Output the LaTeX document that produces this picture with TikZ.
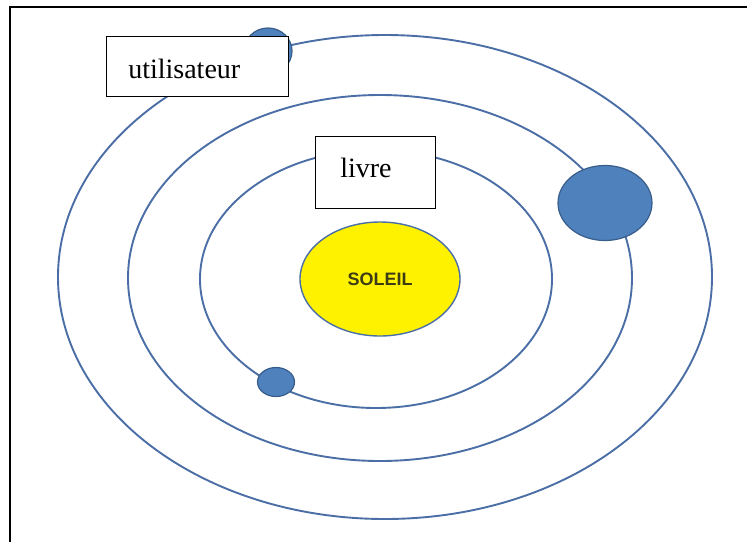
\documentclass[tikz,border=0pt]{standalone}
\usepackage{fontspec}
\setmainfont{Liberation Serif}
\newfontfamily\soleilfont{Liberation Sans}
\usetikzlibrary{shapes.geometric, positioning}

\definecolor{orbitblue}{RGB}{74,110,165}
\definecolor{planetfill}{RGB}{79,129,189}
\definecolor{planetline}{RGB}{56,93,138}
\definecolor{soleiltext}{RGB}{60,60,20}

\begin{document}
\begin{tikzpicture}[
    % Global options: pixel-like units, y going down
    x=1pt, y=-1pt,
    line width=1.9pt,
    orbit/.style={draw=orbitblue},
    planet/.style={ellipse, draw=planetline, fill=planetfill, line width=1.2pt, inner sep=0pt},
    labelbox/.style={draw=black, fill=white, line width=1.3pt, font=\fontsize{28}{30}\selectfont,
      inner sep=0pt, anchor=north west},
  ]
    \useasboundingbox (0,0) rectangle (747,542);

    % --- Frame (top and left edges only) ---
    \draw[black, line width=1.8pt] (747,7) -- (10,7) -- (10,542);

    % --- Orbits ---
    \draw[orbit] (385,277) ellipse (327pt and 242pt);
    \draw[orbit] (380,278) ellipse (252pt and 183pt);
    \draw[orbit] (376,279) ellipse (176pt and 129pt);

    % --- Sun ---
    \node[ellipse, draw=orbitblue, fill=yellow, line width=1.4pt, inner sep=0pt,
      minimum width=160pt, minimum height=114pt,
      font=\soleilfont\bfseries\fontsize{18}{20}\selectfont, text=soleiltext]
      (soleil) at (380,279) {SOLEIL};

    % --- Planets ---
    \node[planet, minimum width=48pt, minimum height=46pt] (p1) at (268,51) {};
    \node[planet, minimum width=94pt, minimum height=75pt] (p2) at (605,203) {};
    \node[planet, minimum width=37pt, minimum height=29pt] (p3) at (276,382) {};

    % --- Labels ---
    \node[labelbox, minimum width=182pt, minimum height=60pt] (utilisateur) at (106,36) {};
    \node[right=18pt of utilisateur.west, anchor=west, yshift=-2pt, font=\fontsize{28}{30}\selectfont] {utilisateur};
    \node[labelbox, minimum width=120pt, minimum height=72pt] (livre) at (315,136) {};
    \node[right=21pt of livre.west, anchor=west, yshift=5pt, font=\fontsize{28}{30}\selectfont] {livre};
  \end{tikzpicture}
\end{document}
